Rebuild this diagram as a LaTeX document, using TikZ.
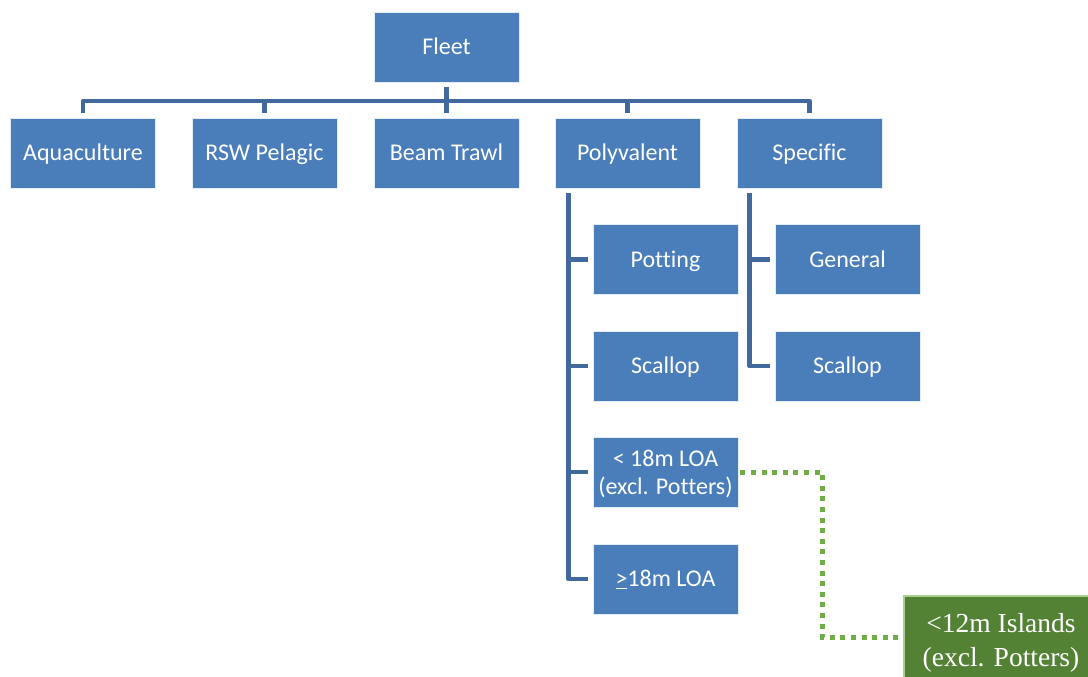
\documentclass[tikz,border=0pt]{standalone}
\usepackage{fontspec}
\setmainfont[Ligatures={NoCommon}]{Carlito}
\newfontfamily\serifisl{Liberation Serif}
\definecolor{boxblue}{HTML}{4A7EBB}
\definecolor{lineblue}{HTML}{41699E}
\definecolor{boxgreen}{HTML}{548235}
\definecolor{edgegreen}{HTML}{A9D08E}
\definecolor{dotgreen}{HTML}{70AD47}
\begin{document}
\begin{tikzpicture}[x=1pt,y=-1pt,
  bluebox/.style={rectangle, fill=boxblue, draw=white!85!boxblue, line width=0.8pt,
    minimum width=145pt, minimum height=70pt, inner sep=0pt, text=white,
    font=\fontsize{24}{28}\selectfont, align=center},
  oneline/.style={text height=17pt, text depth=2pt},
  twoline/.style={text height=46pt, text depth=2pt},
  greenbox/.style={rectangle, fill=boxgreen, draw=edgegreen, line width=2.5pt,
    minimum width=194pt, minimum height=94pt, inner sep=0pt, text=white,
    font=\serifisl\fontsize{27.5}{34}\selectfont, align=center},
  conn/.style={draw=lineblue, line width=4.8pt, line join=round},
  dotline/.style={draw=dotgreen, line width=5pt, dash pattern=on 5pt off 5.6pt}
]
\useasboundingbox (0,0) rectangle (1088,677);
\clip (0,0) rectangle (1088,677);
\fill[white] (0,0) rectangle (1088,677);

\node[bluebox,oneline] (fleet) at (446.5,47) {Fleet};
\node[bluebox,oneline] (aqua) at (83,153) {Aquaculture};
\node[bluebox,oneline] (rsw) at (264.5,153) {RSW Pelagic};
\node[bluebox,oneline] (beam) at (446.5,153) {Beam Trawl};
\node[bluebox,oneline] (poly) at (627.5,153) {Polyvalent};
\node[bluebox,oneline] (spec) at (809.5,153) {Specific};

\node[bluebox,oneline] (p1) at (665.5,259.5) {Potting};
\node[bluebox,oneline] (p2) at (665.5,366) {Scallop};
\node[bluebox,twoline] (p3) at (665.5,472) {< 18m LOA\\(excl. Potters)};
\node[bluebox,oneline] (p4) at (665.5,579) {\underline{>}18m LOA};

\node[bluebox,oneline] (s1) at (847.5,259.5) {General};
\node[bluebox,oneline] (s2) at (847.5,366) {Scallop};

\node[greenbox] (isl) at (1001,643) {<12m Islands\\(excl. Potters)};

% bus
\coordinate (busY) at (0,101);
\draw[conn] ([yshift=5pt]aqua.north) -- (aqua.north |- busY) -- (spec.north |- busY) -- ([yshift=5pt]spec.north);
\draw[conn] ([yshift=-5pt]fleet.south) -- ([yshift=5pt]beam.north);
\draw[conn] (rsw.north |- busY) -- ([yshift=5pt]rsw.north);
\draw[conn] (poly.north |- busY) -- ([yshift=5pt]poly.north);

% polyvalent branch
\coordinate (pv) at (568.5,193);
\draw[conn] (pv) -- (pv |- p4.west) -- ([xshift=-5pt]p4.west);
\draw[conn] (pv |- p1.west) -- ([xshift=-5pt]p1.west);
\draw[conn] (pv |- p2.west) -- ([xshift=-5pt]p2.west);
\draw[conn] (pv |- p3.west) -- ([xshift=-5pt]p3.west);

% specific branch
\coordinate (sv) at (749.5,193);
\draw[conn] (sv) -- (sv |- s2.west) -- ([xshift=-5pt]s2.west);
\draw[conn] (sv |- s1.west) -- ([xshift=-5pt]s1.west);

% dotted link
\coordinate (dv) at (822,0);
\coordinate (islin) at ([xshift=-1.5pt,yshift=6pt]isl.west);
\draw[dotline] ([xshift=2pt]p3.east) -- (p3.east -| dv) -- (dv |- islin) -- (islin);
\end{tikzpicture}
\end{document}
